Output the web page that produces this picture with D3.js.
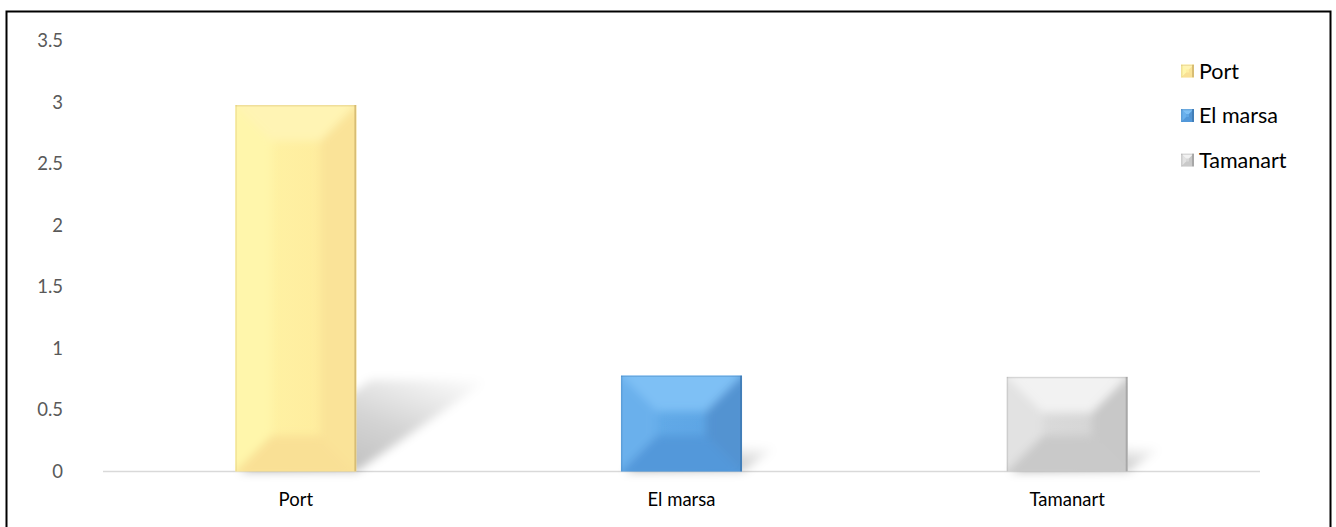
<!DOCTYPE html>
<html>
<head>
<meta charset="utf-8">
<script src="https://cdn.jsdelivr.net/npm/d3@7"></script>
<style>
  html, body { margin: 0; padding: 0; background: #fff; }
  svg { display: block; }
  text { font-family: "Lato", "Liberation Sans", sans-serif; }
</style>
</head>
<body>
<svg id="chart" width="1336" height="527"></svg>
<script>
// Chart data
const categories = ["Port", "El marsa", "Tamanart"];
const values = [2.98, 0.78, 0.77];
const yTicks = [0, 0.5, 1, 1.5, 2, 2.5, 3, 3.5];

// Bevel palettes for each series: face gradient (l -> r), top, bottom, left, right, rim
const palettes = [
  { l: "#fff4a6", r: "#feea9b", top: "#fff4b4", bottom: "#f9e095", left: "#fff6ab", right: "#fae398", edge: "#cdb169" },
  { l: "#64ace9", r: "#5ba3e3", top: "#7ec0f5", bottom: "#5298da", left: "#6ab0ec", right: "#5393d1", edge: "#3d77b0" },
  { l: "#dcdcdc", r: "#d4d4d4", top: "#f2f2f2", bottom: "#c9c9c9", left: "#e2e2e2", right: "#c8c8c8", edge: "#9c9c9c" }
];

const svg = d3.select("#chart");
const defs = svg.append("defs");

// Outer frame
svg.append("rect")
  .attr("x", 6.5).attr("y", 11.5)
  .attr("width", 1324).attr("height", 530)
  .attr("fill", "none").attr("stroke", "#000").attr("stroke-width", 2);

const x = d3.scaleBand()
  .domain(categories)
  .range([103, 1260])
  .paddingInner(0.686)
  .paddingOuter(0.343);

const y = d3.scaleLinear().domain([0, 3.5]).range([471.5, 41]);

// Soft blur for shadows and bevel seams
defs.append("filter").attr("id", "shadowBlur")
  .attr("x", "-30%").attr("y", "-30%").attr("width", "160%").attr("height", "160%")
  .append("feGaussianBlur").attr("stdDeviation", 5);
defs.append("filter").attr("id", "seamBlur")
  .attr("x", "-10%").attr("y", "-10%").attr("width", "120%").attr("height", "120%")
  .append("feGaussianBlur").attr("stdDeviation", 4);

const shadowGrad = defs.append("linearGradient").attr("id", "shadowGrad")
  .attr("x1", "0").attr("y1", "1").attr("x2", "1").attr("y2", "0");
shadowGrad.append("stop").attr("offset", "0").attr("stop-color", "#000").attr("stop-opacity", 0.3);
shadowGrad.append("stop").attr("offset", "0.55").attr("stop-color", "#000").attr("stop-opacity", 0.17);
shadowGrad.append("stop").attr("offset", "1").attr("stop-color", "#000").attr("stop-opacity", 0.0);

palettes.forEach((p, i) => {
  const g = defs.append("linearGradient").attr("id", "face" + i)
    .attr("x1", "0").attr("y1", "0").attr("x2", "1").attr("y2", "0");
  g.append("stop").attr("offset", "0").attr("stop-color", p.l);
  g.append("stop").attr("offset", "1").attr("stop-color", p.r);
});

// Y tick labels
svg.append("g").selectAll("text")
  .data(yTicks).join("text")
  .attr("x", 63)
  .attr("y", d => y(d))
  .attr("dy", "0.35em")
  .attr("text-anchor", "end")
  .attr("fill", "#595959")
  .attr("font-size", 18.5)
  .text(d => d);

// Category axis line
svg.append("line")
  .attr("x1", 103).attr("x2", 1260)
  .attr("y1", y(0)).attr("y2", y(0))
  .attr("stroke", "#d9d9d9").attr("stroke-width", 1.5);

// Category labels
svg.append("g").selectAll("text")
  .data(categories).join("text")
  .attr("x", d => x(d) + x.bandwidth() / 2)
  .attr("y", 500)
  .attr("dy", "0.35em")
  .attr("text-anchor", "middle")
  .attr("fill", "#000")
  .attr("font-size", 18.5)
  .text(d => d);

// Draws a bevelled box into group g
function bevelBox(g, bx, by, bw, bh, i, bevel, id, blur) {
  const pal = palettes[i];
  const b = Math.min(bevel, bw / 2, bh / 2);
  defs.append("clipPath").attr("id", "clip" + id)
    .append("rect").attr("x", bx).attr("y", by).attr("width", bw).attr("height", bh);
  const inner = g.append("g").attr("clip-path", `url(#clip${id})`);
  inner.append("rect").attr("x", bx).attr("y", by).attr("width", bw).attr("height", bh)
    .attr("fill", `url(#face${i})`);
  const faces = [
    { pts: [[bx - 6, by - 6], [bx + bw + 6, by - 6], [bx + bw - b, by + b], [bx + b, by + b]], c: pal.top },
    { pts: [[bx - 6, by + bh + 6], [bx + bw + 6, by + bh + 6], [bx + bw - b, by + bh - b], [bx + b, by + bh - b]], c: pal.bottom },
    { pts: [[bx - 6, by - 6], [bx + b, by + b], [bx + b, by + bh - b], [bx - 6, by + bh + 6]], c: pal.left },
    { pts: [[bx + bw + 6, by - 6], [bx + bw - b, by + b], [bx + bw - b, by + bh - b], [bx + bw + 6, by + bh + 6]], c: pal.right }
  ];
  const fg = inner.append("g").attr("filter", blur ? "url(#seamBlur)" : null);
  fg.selectAll("polygon").data(faces).join("polygon")
    .attr("points", d => d.pts.map(p => p.join(",")).join(" "))
    .attr("fill", d => d.c);
  // crisp rim
  inner.append("line").attr("x1", bx + bw - 1).attr("x2", bx + bw - 1).attr("y1", by).attr("y2", by + bh)
    .attr("stroke", pal.edge).attr("stroke-width", 2).attr("opacity", 0.75);
  inner.append("line").attr("x1", bx).attr("x2", bx + bw).attr("y1", by + 0.75).attr("y2", by + 0.75)
    .attr("stroke", pal.edge).attr("stroke-width", 1.5).attr("opacity", 0.3);
  inner.append("line").attr("x1", bx + 0.75).attr("x2", bx + 0.75).attr("y1", by).attr("y2", by + bh)
    .attr("stroke", pal.edge).attr("stroke-width", 1.5).attr("opacity", 0.3);
}

// Cast shadows behind bars
const shadows = svg.append("g").attr("filter", "url(#shadowBlur)");
values.forEach((v, i) => {
  const bx = x(categories[i]), bw = x.bandwidth();
  const base = y(0), h = base - y(v);
  const dy = h * 0.25, dx = h * 0.36;
  shadows.append("polygon")
    .attr("points", [
      [bx + 4, base], [bx + bw, base],
      [bx + bw + dx, base - dy], [bx + dx + 4, base - dy]
    ].map(p => p.join(",")).join(" "))
    .attr("fill", "url(#shadowGrad)");
});

// Bars
const bars = svg.append("g");
values.forEach((v, i) => {
  const bx = x(categories[i]), bw = x.bandwidth();
  bevelBox(bars, bx, y(v), bw, y(0) - y(v), i, 36, "bar" + i, true);
});

// Legend
const legend = svg.append("g");
categories.forEach((c, i) => {
  const ly = 71 + i * 44.5;
  bevelBox(legend, 1181, ly - 6.5, 13, 13, i, 5, "leg" + i, false);
  legend.append("text")
    .attr("x", 1199).attr("y", ly)
    .attr("dy", "0.35em")
    .attr("fill", "#000")
    .attr("font-size", 21.5)
    .text(c);
});
</script>
</body>
</html>
